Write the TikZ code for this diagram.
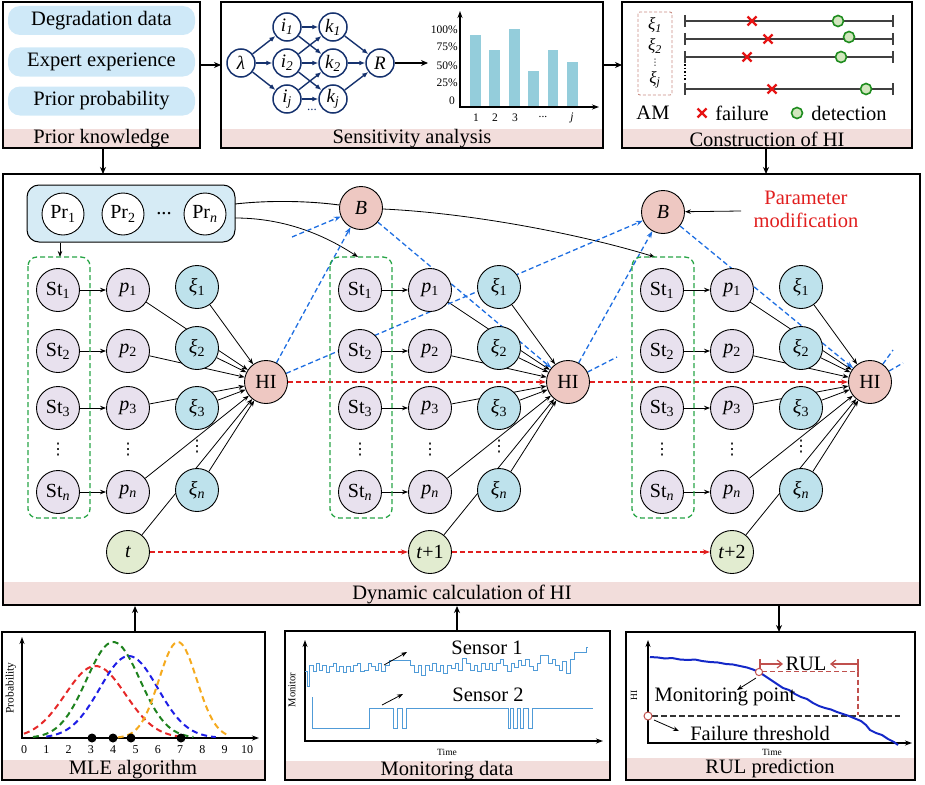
\documentclass[tikz,border=0pt]{standalone}
\usepackage{fontspec}
\setmainfont{Liberation Serif}
\newfontfamily\dejavu{DejaVu Sans}
\usetikzlibrary{arrows.meta}
\pgfdeclarelayer{edges}
\pgfsetlayers{edges,main}
\definecolor{barpink}{RGB}{242,221,219}
\definecolor{pill}{RGB}{207,233,248}
\definecolor{prbg}{RGB}{214,235,245}
\definecolor{lav}{RGB}{232,225,238}
\definecolor{xiblue}{RGB}{190,226,236}
\definecolor{hipink}{RGB}{238,200,194}
\definecolor{tgreen}{RGB}{226,236,208}
\definecolor{navy}{RGB}{22,50,110}
\definecolor{barblue}{RGB}{148,205,219}
\definecolor{bdash}{RGB}{30,110,225}
\definecolor{rdash}{RGB}{225,30,30}
\definecolor{gbox}{RGB}{40,165,70}
\definecolor{amred}{RGB}{200,140,130}
\definecolor{xred}{RGB}{230,20,20}
\definecolor{dgreen}{RGB}{30,140,30}
\definecolor{lgreen}{RGB}{210,230,190}
\definecolor{sigblue}{RGB}{80,155,215}
\definecolor{rulred}{RGB}{192,80,77}
\definecolor{hiblue}{RGB}{20,40,200}
\definecolor{mlered}{RGB}{230,40,40}
\definecolor{mlegreen}{RGB}{30,130,30}
\definecolor{mleblue}{RGB}{30,30,230}
\definecolor{mleorange}{RGB}{245,170,30}
\newcommand{\fsz}[1]{\fontsize{#1}{#1}\selectfont}
\tikzset{
  panel/.style={draw=black, line width=1.4pt},
  pillbox/.style={fill=pill, rounded corners=12pt, minimum width=187pt, minimum height=29pt, inner sep=0pt},
  circ/.style={circle, draw=black, line width=0.9pt, minimum size=43pt, inner sep=0pt, font=\fsz{20}},
  stnode/.style={circ, fill=lav},
  pnode/.style={circ, fill=lav},
  xinode/.style={circ, fill=xiblue},
  hinode/.style={circ, fill=hipink},
  tnode/.style={circ, fill=tgreen},
  prnode/.style={circ, fill=white, minimum size=42pt},
  vdotsnode/.style={inner sep=0pt, font=\dejavu\fsz{16}},
  netnode/.style={circle, draw=navy, line width=1.5pt, minimum size=28pt, inner sep=0pt, fill=white, font=\fsz{19}\itshape},
  navyarr/.style={draw=navy, line width=1.4pt, -{Latex[length=6pt,width=5pt]}},
  blk/.style={line width=0.8pt, -{Stealth[length=6pt,width=4.5pt]}},
  blkline/.style={line width=0.9pt},
  blk2/.style={line width=1.2pt, -{Stealth[length=7pt,width=6pt]}},
  axarr/.style={line width=1.2pt, -{Stealth[length=7pt,width=5pt]}},
  bluedash/.style={draw=bdash, line width=1.3pt, dash pattern=on 5pt off 3pt, -{Stealth[length=7pt,width=5pt,fill=bdash]}},
  bluestub/.style={draw=bdash, line width=1.3pt, dash pattern=on 5pt off 3pt},
  reddash/.style={draw=rdash, line width=1.5pt, dash pattern=on 5pt off 3pt, -{Stealth[length=7pt,width=5pt,fill=rdash]}},
  gdash/.style={draw=gbox, line width=1.3pt, dash pattern=on 5pt off 3pt, rounded corners=9pt},
  tline/.style={draw=black!75, line width=2pt},
  mlecurve/.style={line width=2pt, dash pattern=on 6pt off 4pt},
  sig/.style={draw=sigblue, line width=1pt},
}
\begin{document}
\begin{tikzpicture}[x=1pt,y=-1pt,font=\fsz{20.5}]
\useasboundingbox (0,0) rectangle (925,784);

% ================= Panel 1: Prior knowledge
\fill[barpink] (3,129) rectangle (200,148);
\draw[panel] (3,2) rectangle (200,148);
\node at (101.5,139) {Prior knowledge};
\node[pillbox] (pdd) at (101.5,20.5) {Degradation data};
\node[pillbox] (pee) at (101.5,62) {Expert experience};
\node[pillbox] (ppp) at (101.5,101) {Prior probability};

\coordinate (a1s) at (200,65);
\coordinate (a1e) at (221,65);
\draw[blk2] (a1s) -- (a1e);

% ================= Panel 2: Sensitivity analysis
\fill[barpink] (221,129) rectangle (603,148);
\draw[panel] (221,2) rectangle (603,148);
\node at (412,139) {Sensitivity analysis};
\node[netnode] (lam) at (241,63) {λ};
\node[netnode] (i1) at (287,27) {i\textsubscript{1}};
\node[netnode] (i2) at (287,63) {i\textsubscript{2}};
\node[netnode] (ij) at (287,99) {i\textsubscript{j}};
\node[netnode] (k1) at (333,27) {k\textsubscript{1}};
\node[netnode] (k2) at (333,63) {k\textsubscript{2}};
\node[netnode] (kj) at (333,99) {k\textsubscript{j}};
\node[netnode] (rr) at (380,63) {R};
\node[font=\fsz{13}, navy] (ndots) at (312,110) {...};
\draw[navyarr] (lam) -- (i1);
\draw[navyarr] (lam) -- (i2);
\draw[navyarr] (lam) -- (ij);
\draw[navyarr] (i1) -- (k1);
\draw[navyarr] (i1) -- (k2);
\draw[navyarr] (i2) -- (k1);
\draw[navyarr] (i2) -- (k2);
\draw[navyarr] (i2) -- (kj);
\draw[navyarr] (ij) -- (k2);
\draw[navyarr] (ij) -- (kj);
\draw[navyarr] (k1) -- (rr);
\draw[navyarr] (k2) -- (rr);
\draw[navyarr] (kj) -- (rr);
\coordinate (rch) at (428,63);
\draw[blk2] (rr) -- (rch);
% bar chart
\fill[barblue] (470,35) rectangle (481,107);
\fill[barblue] (489,50) rectangle (500,107);
\fill[barblue] (509,29) rectangle (520,107);
\fill[barblue] (528,71) rectangle (539,107);
\fill[barblue] (548,50) rectangle (558,107);
\fill[barblue] (567,62) rectangle (578,107);
\draw[axarr] (460,107) -- (460,11);
\draw[axarr] (459.4,107) -- (599,107);
\begin{scope}[font=\fsz{11.5}]
\node[anchor=east, inner sep=1pt] at (459,30) {100\%};
\node[anchor=east, inner sep=1pt] at (459,47) {75\%};
\node[anchor=east, inner sep=1pt] at (459,66) {50\%};
\node[anchor=east, inner sep=1pt] at (459,83) {25\%};
\node[anchor=east, inner sep=1pt] at (456,101) {0};
\node at (476,118) {1};
\node at (495,118) {2};
\node at (515,118) {3};
\node at (543,117) {...};
\node at (572,118) {\textit{j}};
\end{scope}

\coordinate (a2s) at (603,65);
\coordinate (a2e) at (622,65);
\draw[blk2] (a2s) -- (a2e);

% ================= Panel 3: Construction of HI
\fill[barpink] (622,129) rectangle (912,148);
\draw[panel] (622,2) rectangle (912,148);
\node at (767,139) {Construction of HI};
\draw[amred, line width=0.9pt, dash pattern=on 3pt off 2pt, rounded corners=2pt] (638,12) rectangle (672,95);
\node[font=\fsz{17}\itshape, inner sep=0pt] at (655,25) {ξ\textsubscript{1}};
\node[font=\fsz{17}\itshape, inner sep=0pt] at (655,46) {ξ\textsubscript{2}};
\node[font=\dejavu\fsz{9}, inner sep=0pt] at (655,63) {⋮};
\node[font=\fsz{17}\itshape, inner sep=0pt] at (655,80) {ξ\textsubscript{j}};
\foreach \yy in {21,39,57,89} {
  \draw[tline] (685,\yy) -- (893,\yy);
  \draw[tline] (685,{\yy-6}) -- (685,{\yy+6});
  \draw[tline] (893,{\yy-6}) -- (893,{\yy+6});
}
\draw[black, line width=1.3pt, dash pattern=on 1.5pt off 2pt] (685,64) -- (685,81);
\foreach \cx/\cy in {752/21,768/39,747/57,772/89,702/113}
  \draw[xred, line width=2.2pt] ({\cx-4.5},{\cy-4.5}) -- ({\cx+4.5},{\cy+4.5}) ({\cx-4.5},{\cy+4.5}) -- ({\cx+4.5},{\cy-4.5});
\foreach \cx/\cy in {838/21,849/37,841/57,866/89,797/113}
  \draw[dgreen, fill=lgreen, line width=1.6pt] (\cx,\cy) circle[radius=5.5pt];
\node at (653,113) {AM};
\node at (742,113) {failure};
\node at (849,113) {detection};

\coordinate (a3s) at (103,148);
\coordinate (a3e) at (103,174);
\draw[blk2] (a3s) -- (a3e);
\coordinate (a4s) at (766,148);
\coordinate (a4e) at (766,174);
\draw[blk2] (a4s) -- (a4e);

% ================= Main panel
\fill[barpink] (3,582) rectangle (920,605);
\draw[panel] (3,174) rectangle (920,605);
\node at (462,594) {Dynamic calculation of HI};

\node[draw=black, line width=1pt, fill=prbg, rounded corners=12pt, minimum width=208pt, minimum height=57pt] (prb) at (131,213.5) {};
\node[prnode] (pr1) at (63,214) {Pr\textsubscript{1}};
\node[prnode] (pr2) at (123,214) {Pr\textsubscript{2}};
\node (prd) at (164,214) {...};
\node[prnode] (prn) at (205,214) {Pr\textsubscript{\textit{n}}};
\coordinate (prbot) at (60,242.5);
\coordinate (gtop0) at (60,257);
\draw[blk] (prbot) -- (gtop0);

\foreach \c/\dx/\tl in {0/0/{\textit{t}},1/302/{\textit{t}+1},2/604/{\textit{t}+2}} {
  \draw[gdash] ({28+\dx},257) rectangle ({90+\dx},518);
  \node[stnode] (st1\c) at ({58+\dx},290) {St\textsubscript{1}};
  \node[stnode] (st2\c) at ({58+\dx},351) {St\textsubscript{2}};
  \node[stnode] (st3\c) at ({58+\dx},408) {St\textsubscript{3}};
  \node[stnode] (stn\c) at ({58+\dx},492) {St\textsubscript{\textit{n}}};
  \node[pnode] (p1\c) at ({128+\dx},290) {\textit{p}\textsubscript{1}};
  \node[pnode] (p2\c) at ({128+\dx},351) {\textit{p}\textsubscript{2}};
  \node[pnode] (p3\c) at ({128+\dx},408) {\textit{p}\textsubscript{3}};
  \node[pnode] (pn\c) at ({128+\dx},492) {\textit{p}\textsubscript{\textit{n}}};
  \node[xinode] (xi1\c) at ({197+\dx},287) {\textit{ξ}\textsubscript{1}};
  \node[xinode] (xi2\c) at ({197+\dx},348) {\textit{ξ}\textsubscript{2}};
  \node[xinode] (xi3\c) at ({197+\dx},408) {\textit{ξ}\textsubscript{3}};
  \node[xinode] (xin\c) at ({197+\dx},490) {\textit{ξ}\textsubscript{\textit{n}}};
  \node[vdotsnode] (vd1\c) at ({58+\dx},450) {⋮};
  \node[vdotsnode] (vd2\c) at ({128+\dx},450) {⋮};
  \node[vdotsnode] (vd3\c) at ({197+\dx},447) {⋮};
  \node[hinode] (hi\c) at ({266+\dx},382) {HI};
  \node[tnode] (t\c) at ({128+\dx},552) {\tl};
  \begin{pgfonlayer}{edges}
    \draw[blk] (st1\c) -- (p1\c);
    \draw[blk] (st2\c) -- (p2\c);
    \draw[blk] (st3\c) -- (p3\c);
    \draw[blk] (stn\c) -- (pn\c);
    \foreach \s in {p1,xi1,p2,xi2,p3,xi3,pn,xin,t}
      \draw[blk] (\s\c) -- (hi\c);
  \end{pgfonlayer}
}

\node[hinode] (b1) at (361,208) {\textit{B}};
\node[hinode] (b2) at (663,212) {\textit{B}};
\node[text=rdash, align=center, font=\fontsize{20.5}{23}\selectfont] (pm) at (806,209) {Parameter\\modification};
\coordinate (pma) at (741,211);
\draw[blk] (pma) -- (b2);

\coordinate (prc1) at (235,204);
\coordinate (prc2) at (235,218);
\coordinate (gtop1) at (358,257);
\coordinate (gtop2) at (655,257);
\coordinate (bst0) at (292,237);
\coordinate (bst1) at (617,357);
\coordinate (bst2a) at (893,350);
\coordinate (bst2b) at (903,363);

\begin{pgfonlayer}{edges}
  \draw[blkline] (prc1) .. controls (270,200) and (310,201) .. (b1);
  \draw[blk] (prc2) .. controls (280,218) and (320,232) .. (gtop1);
  \draw[blk] (b1) .. controls (470,213) and (580,234) .. (gtop2);
  \draw[bluedash] (bst0) -- (b1);
  \draw[bluedash] (hi0) -- (b1);
  \draw[bluedash] (hi0) -- (b2);
  \draw[bluedash] (b1) -- (hi1);
  \draw[bluedash] (hi1) -- (b2);
  \draw[bluestub] (hi1) -- (bst1);
  \draw[bluedash] (b2) -- (hi2);
  \draw[bluestub] (hi2) -- (bst2a);
  \draw[bluestub] (hi2) -- (bst2b);
  \draw[reddash] (hi0) -- (hi1);
  \draw[reddash] (hi1) -- (hi2);
  \draw[reddash] (t0) -- (t1);
  \draw[reddash] (t1) -- (t2);
\end{pgfonlayer}

% links bottom panels <-> main
\coordinate (a5s) at (135,632);
\coordinate (a5e) at (135,606);
\draw[blk2] (a5s) -- (a5e);
\coordinate (a6s) at (457,631);
\coordinate (a6e) at (457,606);
\draw[blk2] (a6s) -- (a6e);
\coordinate (a7s) at (779,606);
\coordinate (a7e) at (779,632);
\draw[blk2] (a7s) -- (a7e);

% ================= MLE panel
\fill[barpink] (2,760) rectangle (265,780);
\draw[panel] (2,632) rectangle (265,780);
\node at (133,770) {MLE algorithm};
\draw[axarr] (22,738.6) -- (22,637);
\draw[axarr] (21.4,738) -- (259,738);
\node[rotate=90, font=\fsz{11.5}] at (11,688) {Probability};
\foreach \u in {0,...,10}
  \node[font=\fsz{12}] at ({24+22.3*\u},750) {\u};
\draw[mlecurve, mlered] plot[domain=0:7, samples=60] ({24+22.3*\x},{738-72*exp(-((\x-3.2)*(\x-3.2))/3.645)});
\draw[mlecurve, mlegreen] plot[domain=0.4:7.6, samples=60] ({24+22.3*\x},{738-96*exp(-((\x-4.0)*(\x-4.0))/2.88)});
\draw[mlecurve, mleblue] plot[domain=1:8.6, samples=60] ({24+22.3*\x},{738-82*exp(-((\x-4.7)*(\x-4.7))/3.38)});
\draw[mlecurve, mleorange] plot[domain=4.2:9.2, samples=60] ({24+22.3*\x},{738-96*exp(-((\x-6.9)*(\x-6.9))/1.445)});
\foreach \dd in {92,113,131,181}
  \fill (\dd,738) circle[radius=4.5pt];

% ================= Monitoring panel
\fill[barpink] (285,761) rectangle (610,780);
\draw[panel] (285,631) rectangle (610,780);
\node at (447,771) {Monitoring data};
\draw[axarr] (305,741.6) -- (305,640);
\draw[axarr] (304.4,741) -- (603,741);
\node[rotate=90, font=\fsz{10.5}] at (292,690) {Monitor};
\node[font=\fsz{9.5}] at (447,752) {Time};
\draw[sig] (305,671) -| (307,686) -| (309,665) -| (313,671) -| (316,663) -| (319,670) -| (322,665) -| (326,672) -| (329,666) -| (333,663) -| (336,671) -| (339,666) -| (343,672) -| (346,666) -| (350,671) -| (353,665) -| (357,663) -| (360,671) -| (364,670) -| (368,663) -| (371,666) -| (375,670) -| (378,663) -| (381,671) -| (385,665) -| (389,660) -| (410,665) -| (414,672) -| (418,665) -| (421,675) -| (425,665) -| (429,670) -| (432,663) -| (436,671) -| (440,665) -| (443,673) -| (447,665) -| (451,668) -| (455,663) -| (458,670) -| (462,658) -| (466,663) -| (470,670) -| (474,665) -| (477,671) -| (481,663) -| (485,669) -| (489,663) -| (492,670) -| (496,663) -| (500,659) -| (503,665) -| (507,671) -| (511,663) -| (514,667) -| (518,660) -| (521,665) -| (525,659) -| (529,666) -| (533,670) -| (537,663) -| (540,655) -| (548,663) -| (552,659) -| (555,665) -| (559,670) -| (562,661) -| (566,673) -| (570,659) -| (574,652) -| (586,647) -- (588,647);
\draw[sig] (312,697) -- (312,728) -- (369,728) -- (369,708) -- (393,708) -- (393,728) -- (397,728) -- (397,708) -- (402,708) -- (402,728) -- (406,728) -- (406,708) -- (508,708) -- (508,728) -- (510,728) -- (510,708) -- (513,708) -- (513,728) -- (517,728) -- (517,708) -- (520,708) -- (520,728) -- (523,728) -- (523,708) -- (528,708) -- (528,728) -- (532,728) -- (532,708) -- (593,708);
\node (s1) at (487,648) {Sensor 1};
\node (s2) at (488,695) {Sensor 2};
\coordinate (s1a) at (384,665);
\coordinate (s1b) at (407,652);
\draw[blk] (s1a) -- (s1b);
\coordinate (s2a) at (382,705);
\coordinate (s2b) at (403,694);
\draw[blk] (s2a) -- (s2b);

% ================= RUL panel
\fill[barpink] (626,758) rectangle (915,780);
\draw[panel] (626,632) rectangle (915,780);
\node at (770,769) {RUL prediction};
\draw[axarr] (648,743.6) -- (648,640);
\draw[axarr] (647.4,743) -- (912,743);
\node[rotate=90, font=\fsz{9.5}] at (634,695) {HI};
\node[font=\fsz{9.5}] at (772,752) {Time};
\draw[black!80, line width=1.2pt, dash pattern=on 6pt off 3pt] (652,716) -- (900,716);
\draw[hiblue, line width=2pt, line join=round] (650,657) -- (658,657.5) -- (665,658.5) -- (672,658) -- (680,659.5) -- (688,660) -- (695,659.5) -- (702,661) -- (710,662) -- (718,662.5) -- (726,664) -- (733,664.5) -- (740,666) -- (747,667.5) -- (753,669.5) -- (759,672) -- (765,676) -- (771,680) -- (777,684) -- (783,688) -- (789,690) -- (795,694) -- (801,697) -- (807,699) -- (813,703) -- (819,706) -- (825,708) -- (831,709.5) -- (837,712) -- (843,714) -- (849,716) -- (855,718.5) -- (861,721) -- (866,725) -- (870,730) -- (876,733) -- (882,735) -- (888,739) -- (894,742) -- (898,745);
\draw[rulred, line width=1.2pt, dash pattern=on 5pt off 3pt] (762,671.5) -- (858,671.5) -- (858,715);
\draw[rulred, line width=1.2pt] (760,659) -- (760,670);
\draw[rulred, line width=1.2pt] (858,659) -- (858,671);
\coordinate (rula) at (760,664);
\coordinate (rulb) at (783,664);
\coordinate (rulc) at (858,664);
\coordinate (ruld) at (830,664);
\draw[rulred, line width=1.2pt, -{Straight Barb[length=5pt,width=8pt]}] (rula) -- (rulb);
\draw[rulred, line width=1.2pt, -{Straight Barb[length=5pt,width=8pt]}] (rulc) -- (ruld);
\node at (806,664) {RUL};
\draw[rulred, fill=white, line width=1pt] (759,672) circle[radius=3.6pt];
\draw[rulred, fill=white, line width=1pt] (648,716) circle[radius=4pt];
\coordinate (mpa) at (756,678);
\coordinate (mpb) at (737,690);
\draw[blk] (mpa) -- (mpb);
\node at (725,697) {Monitoring point};
\coordinate (fta) at (654,720);
\coordinate (ftb) at (679,731);
\draw[blk] (fta) -- (ftb);
\node at (760,733) {Failure threshold};
\end{tikzpicture}
\end{document}
